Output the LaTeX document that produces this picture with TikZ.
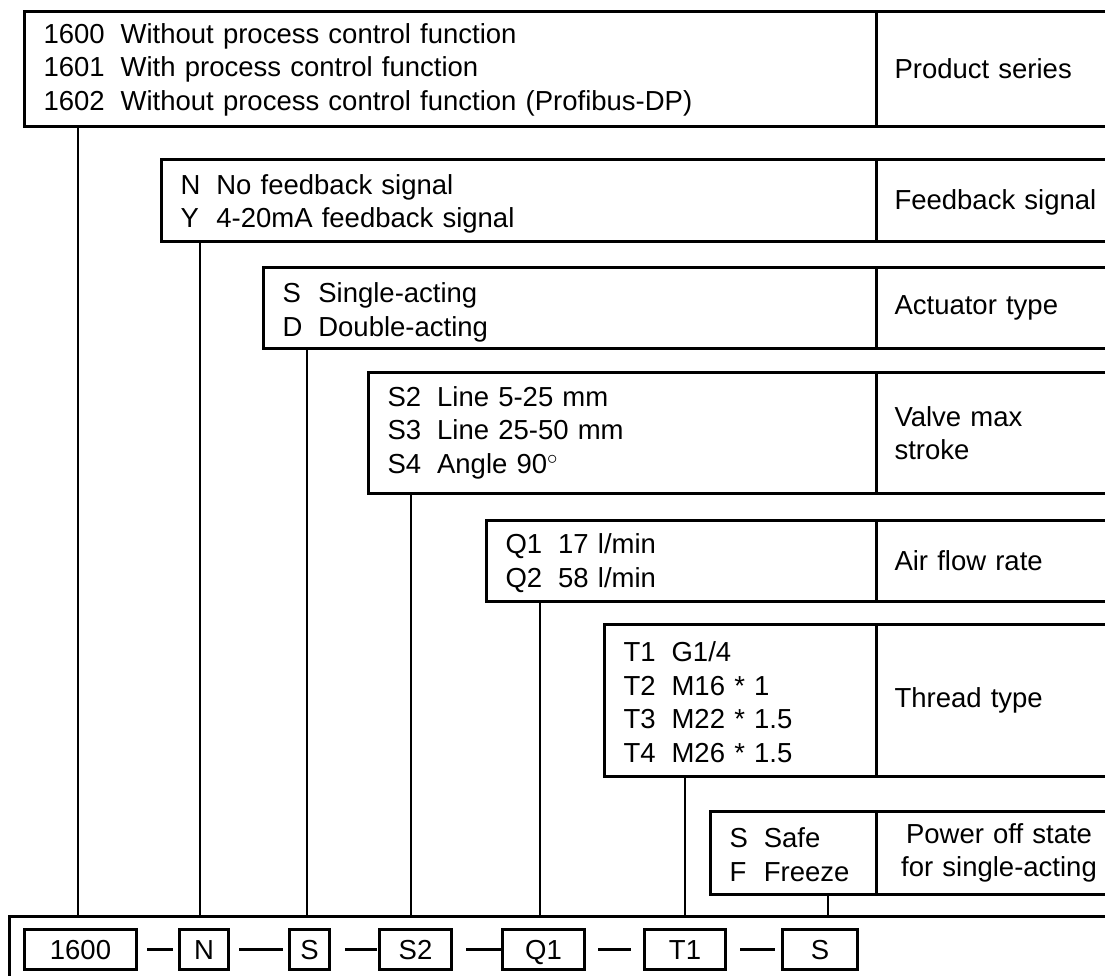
\documentclass[tikz,border=0pt]{standalone}
\usepackage{fontspec}
\setmainfont{Liberation Sans}
\newcommand{\codetab}[2][0pt]{\raisebox{-#1}[\height][\depth]{\begin{tabular}{@{}l@{\hspace{16pt}}l@{}}#2\end{tabular}}}
\begin{document}
\begin{tikzpicture}[x=1pt,y=-1pt,
  every node/.style={font=\fontsize{27.5}{33.5}\selectfont},
  optbox/.style={draw, line width=3pt, anchor=north west, inner xsep=19pt, inner ysep=0pt, align=left},
  lblbox/.style={draw, line width=3pt, anchor=north west, minimum width=245pt, text width=209pt, inner xsep=18pt, inner ysep=0pt, align=left},
  codebox/.style={draw, line width=3pt, minimum height=40pt, inner sep=0pt, anchor=north west, text height=19.5pt, text depth=0pt},
  frame/.style={draw, line width=3pt, anchor=north west, minimum width=1120pt, minimum height=100pt},
  conn/.style={line width=2.2pt},
  link/.style={line width=2.2pt}
]
\clip (0,0) rectangle (1105,976);
\fill[white] (0,0) rectangle (1105,976);

% option boxes (left part) and label boxes (right part)
\node[optbox, minimum width=852pt, text width=814pt, minimum height=115pt] (b1) at (23,10)
  {\codetab[1pt]{1600 & Without process control function\\1601 & With process control function\\1602 & Without process control function (Profibus-DP)}};
\node[lblbox, minimum height=115pt] (l1) at (875,10) {Product series};

\node[optbox, minimum width=715pt, text width=677pt, minimum height=82pt] (b2) at (160,158)
  {\codetab[4pt]{N & No feedback signal\\Y & 4-20mA feedback signal}};
\node[lblbox, minimum height=82pt] (l2) at (875,158) {\raisebox{-2pt}[\height][\depth]{Feedback signal}};

\node[optbox, minimum width=613pt, text width=575pt, minimum height=81pt] (b3) at (262,266)
  {\codetab[5pt]{S & Single-acting\\D & Double-acting}};
\node[lblbox, minimum height=81pt] (l3) at (875,266) {Actuator type};

\node[optbox, minimum width=508pt, text width=470pt, minimum height=121pt, inner xsep=16pt] (b4) at (367,371)
  {\codetab{S2 & Line 5-25 mm\\S3 & Line 25-50 mm\\S4 & Angle 90$^\circ$}};
\node[lblbox, minimum height=121pt] (l4) at (875,371) {Valve max\\stroke};

\node[optbox, minimum width=390pt, text width=352pt, minimum height=81pt, inner xsep=18pt] (b5) at (485,519)
  {\codetab[3pt]{Q1 & 17 l/min\\Q2 & 58 l/min}};
\node[lblbox, minimum height=81pt] (l5) at (875,519) {Air flow rate};

\node[optbox, minimum width=272pt, text width=234pt, minimum height=152pt] (b6) at (603,623)
  {\codetab[5pt]{T1 & G1/4\\T2 & M16 * 1\\T3 & M22 * 1.5\\T4 & M26 * 1.5}};
\node[lblbox, minimum height=152pt] (l6) at (875,623) {Thread type};

\node[optbox, minimum width=166pt, text width=128pt, minimum height=83pt] (b7) at (709,810)
  {\codetab[5pt]{S & Safe\\F & Freeze}};
\node[lblbox, minimum height=83pt, align=center, text width=234pt, inner xsep=0pt] (l7) at (875,810)
  {Power off state\\for single-acting};

% bottom frame
\node[frame] (fr) at (8,915) {};

% code boxes
\node[codebox, minimum width=112pt] (c1) at (23,928) {1600};
\node[codebox, minimum width=49pt] (c2) at (178,928) {N};
\node[codebox, minimum width=40pt] (c3) at (288,928) {S};
\node[codebox, minimum width=72pt] (c4) at (378,928) {S2};
\node[codebox, minimum width=82pt] (c5) at (501,928) {Q1};
\node[codebox, minimum width=81pt] (c6) at (643,928) {T1};
\node[codebox, minimum width=75pt] (c7) at (781,928) {S};

% links between code boxes
\draw[link] ([xshift=9pt]c1.east) -- ([xshift=-5pt]c2.west);
\draw[link] ([xshift=9pt]c2.east) -- ([xshift=-5pt]c3.west);
\draw[link] ([xshift=14pt]c3.east) -- ([xshift=-1pt]c4.west);
\draw[link] ([xshift=13pt]c4.east) -- (c5.west);
\draw[link] ([xshift=12pt]c5.east) -- ([xshift=-12pt]c6.west);
\draw[link] ([xshift=13pt]c6.east) -- ([xshift=-6pt]c7.west);

% vertical connectors
\coordinate (x1) at (78,0);
\coordinate (x2) at (200,0);
\coordinate (x3) at (307,0);
\coordinate (x4) at (411,0);
\coordinate (x5) at (540,0);
\coordinate (x6) at (685,0);
\coordinate (x7) at (828,0);
\draw[conn] (b1.south -| x1) -- (fr.north -| x1);
\draw[conn] (b2.south -| x2) -- (fr.north -| x2);
\draw[conn] (b3.south -| x3) -- (fr.north -| x3);
\draw[conn] (b4.south -| x4) -- (fr.north -| x4);
\draw[conn] (b5.south -| x5) -- (fr.north -| x5);
\draw[conn] (b6.south -| x6) -- (fr.north -| x6);
\draw[conn] (b7.south -| x7) -- (fr.north -| x7);
\end{tikzpicture}
\end{document}
